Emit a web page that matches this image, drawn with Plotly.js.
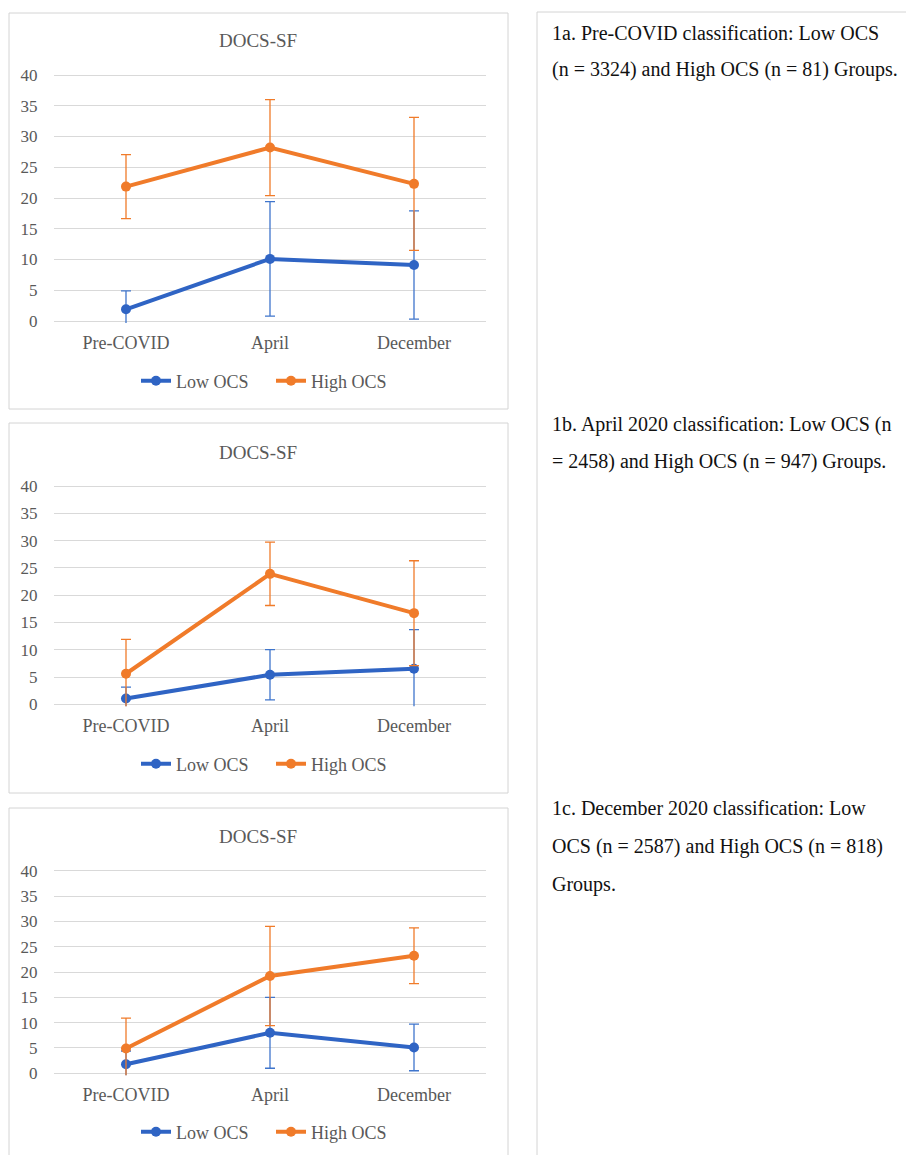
<!DOCTYPE html>
<html>
<head>
<meta charset="utf-8">
<script src="https://cdn.plot.ly/plotly-3.0.1.min.js"></script>
<style>
html,body{margin:0;padding:0;background:#fff;}
#chart{width:906px;height:1155px;}
</style>
</head>
<body>
<div id="chart"></div>
<script>
// ---- data ----
const categories = ['Pre-COVID', 'April', 'December'];
const seriesNames = ['Low OCS', 'High OCS'];
const chartTitle = 'DOCS-SF';
const yTicks = [0, 5, 10, 15, 20, 25, 30, 35, 40];

// Panel 1a
const low1 = [1.9, 10.1, 9.1];
const lowErr1 = [3.0, 9.3, 8.8];
const high1 = [21.85, 28.2, 22.3];
const highErr1 = [5.2, 7.8, 10.8];
// Panel 1b
const low2 = [1.05, 5.4, 6.5];
const lowErr2 = [2.1, 4.6, 7.2];
const high2 = [5.6, 23.9, 16.7];
const highErr2 = [6.3, 5.8, 9.6];
// Panel 1c
const low3 = [1.8, 8.0, 5.1];
const lowErr3 = [2.6, 7.0, 4.6];
const high3 = [4.9, 19.2, 23.2];
const highErr3 = [6.0, 9.8, 5.5];

const captions = [
  ['1a. Pre-COVID classification: Low OCS', '(n = 3324) and High OCS (n = 81) Groups.'],
  ['1b. April 2020 classification: Low OCS (n', '= 2458) and High OCS (n = 947) Groups.'],
  ['1c. December 2020 classification: Low', 'OCS (n = 2587) and High OCS (n = 818)', 'Groups.']
];

// ---- layout helpers (pixel geometry) ----
const W = 906, H = 1155;
const px = x => x / W;
const py = y => 1 - y / H;
const BLUE = '#2f64c4';
const BLUE_ERR = '#3f75cc';
const ORANGE = '#f07b2a';
const FONT = '"Liberation Serif", "Times New Roman", serif';
const GRAY = '#595959';

const panels = [
  {low: low1, lowErr: lowErr1, high: high1, highErr: highErr1, top: 75, bottom: 321, box: [9, 13, 508, 409], titleY: 41, legendY: 381},
  {low: low2, lowErr: lowErr2, high: high2, highErr: highErr2, top: 486, bottom: 704.3, box: [9, 423, 508, 793], titleY: 452, legendY: 764},
  {low: low3, lowErr: lowErr3, high: high3, highErr: highErr3, top: 870.7, bottom: 1073.3, box: [9, 808, 508, 1170], titleY: 836, legendY: 1132}
];

const data = [];
const layout = {
  width: W, height: H,
  margin: {l: 0, r: 0, t: 0, b: 0},
  paper_bgcolor: '#fff', plot_bgcolor: '#fff',
  font: {family: FONT, color: GRAY, size: 16},
  shapes: [], annotations: [],
  showlegend: true
};

panels.forEach((p, i) => {
  const n = i + 1;
  const xa = n === 1 ? 'x' : 'x' + n;
  const ya = n === 1 ? 'y' : 'y' + n;
  const lg = n === 1 ? 'legend' : 'legend' + n;
  const mk = (vals, errs, name, color, errColor) => ({
    type: 'scatter', mode: 'lines+markers',
    x: categories, y: vals, name: name,
    xaxis: xa, yaxis: ya, legend: lg,
    line: {color: color, width: 4},
    marker: {color: color, size: 10},
    error_y: {type: 'data', array: errs, visible: true, color: errColor, thickness: 1.3, width: 5},
    hoverinfo: 'skip'
  });
  data.push(mk(p.low, p.lowErr, seriesNames[0], BLUE, BLUE_ERR));
  data.push(mk(p.high, p.highErr, seriesNames[1], ORANGE, ORANGE));

  // small padding so gridlines at 0 and 40 are drawn
  const unit = (p.bottom - p.top) / 40;
  const pad = 2 / unit;
  layout['xaxis' + (n === 1 ? '' : n)] = {
    domain: [px(54), px(486)], anchor: ya,
    type: 'category', range: [-0.5, 2.5],
    showgrid: false, zeroline: false, showline: false,
    ticks: 'outside', ticklen: 3, tickcolor: 'rgba(0,0,0,0)',
    tickfont: {family: FONT, size: 18, color: GRAY},
    fixedrange: true
  };
  layout['yaxis' + (n === 1 ? '' : n)] = {
    domain: [py(p.bottom + pad * unit), py(p.top - pad * unit)], anchor: xa,
    range: [-pad, 40 + pad], tickvals: yTicks,
    showgrid: true, gridcolor: '#d9d9d9', gridwidth: 1,
    zeroline: false, showline: false,
    ticks: 'outside', ticklen: 12, tickcolor: 'rgba(0,0,0,0)',
    tickfont: {family: FONT, size: 17, color: GRAY},
    fixedrange: true
  };
  layout[lg] = {
    orientation: 'h', x: px(271), xanchor: 'center',
    y: py(p.legendY), yanchor: 'middle',
    font: {family: FONT, size: 18, color: GRAY},
    bgcolor: 'rgba(0,0,0,0)', itemclick: false, itemdoubleclick: false,
    entrywidth: 90, tracegroupgap: 0
  };
  const b = p.box;
  layout.shapes.push({type: 'rect', xref: 'paper', yref: 'paper',
    x0: px(b[0]), y0: py(b[1]), x1: px(b[2]), y1: py(b[3]),
    line: {color: '#d4d4d4', width: 1}, fillcolor: 'rgba(0,0,0,0)', layer: 'below'});
  layout.annotations.push({xref: 'paper', yref: 'paper', x: px(258), y: py(p.titleY),
    xanchor: 'center', yanchor: 'middle', showarrow: false, text: chartTitle,
    font: {family: FONT, size: 19, color: GRAY}});
});

// right caption box
layout.shapes.push({type: 'rect', xref: 'paper', yref: 'paper',
  x0: px(537), y0: py(12), x1: px(912), y1: py(1170),
  line: {color: '#d4d4d4', width: 1}, fillcolor: 'rgba(0,0,0,0)', layer: 'below'});

const captionY = [[33, 70], [424, 461], [808, 846, 884]];
captions.forEach((lines, i) => {
  lines.forEach((t, j) => {
    layout.annotations.push({xref: 'paper', yref: 'paper', x: px(550), y: py(captionY[i][j]),
      xanchor: 'left', yanchor: 'middle', showarrow: false, text: t, align: 'left',
      font: {family: FONT, size: 20, color: '#111'}});
  });
});

Plotly.newPlot('chart', data, layout, {displayModeBar: false, staticPlot: true});
</script>
</body>
</html>
